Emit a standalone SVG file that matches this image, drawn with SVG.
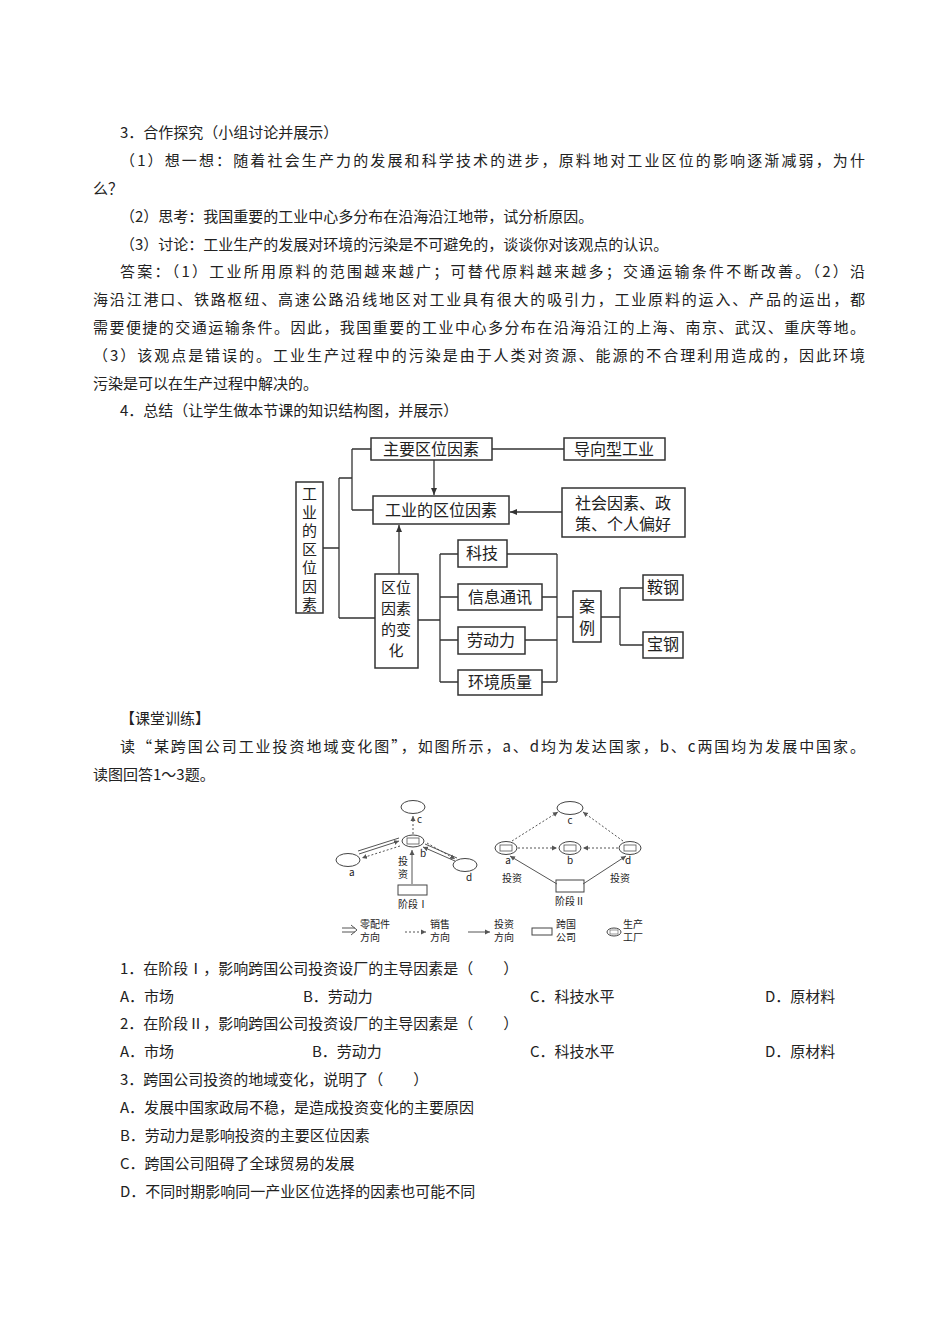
<svg xmlns="http://www.w3.org/2000/svg" width="950" height="1344" viewBox="0 0 950 1344">
<defs>
<style>
text{font-family:"Noto Sans CJK SC","Liberation Serif",serif;fill:#222}
.t{font-size:15px}
.b{font-size:16px}
.v{font-size:15px}
.s{font-size:10px}
.box{fill:#fff;stroke:#333;stroke-width:1.5}
.ln{fill:none;stroke:#333;stroke-width:1.3}
.th{fill:none;stroke:#555;stroke-width:1}
.dt{fill:none;stroke:#555;stroke-width:1;stroke-dasharray:2 2}
.el{fill:#fff;stroke:#444;stroke-width:1}
</style>
<marker id="ar" markerWidth="8" markerHeight="8" refX="7" refY="4" orient="auto" markerUnits="userSpaceOnUse"><path d="M0,1 L7,4 L0,7 Z" fill="#333"/></marker>
<marker id="as" markerWidth="6" markerHeight="6" refX="5" refY="3" orient="auto" markerUnits="userSpaceOnUse"><path d="M0,0.5 L5,3 L0,5.5 Z" fill="#555"/></marker>
</defs>
<rect width="950" height="1344" fill="#fff"/>
<g id="page-text" class="t">
<text x="120" y="138">3．合作探究（小组讨论并展示）</text>
<text x="120" y="166" textLength="745" lengthAdjust="spacing">（1）想一想：随着社会生产力的发展和科学技术的进步，原料地对工业区位的影响逐渐减弱，为什</text>
<text x="93" y="194">么？</text>
<text x="120" y="222">（2）思考：我国重要的工业中心多分布在沿海沿江地带，试分析原因。</text>
<text x="120" y="250">（3）讨论：工业生产的发展对环境的污染是不可避免的，谈谈你对该观点的认识。</text>
<text x="120" y="277" textLength="745" lengthAdjust="spacing">答案：（1）工业所用原料的范围越来越广；可替代原料越来越多；交通运输条件不断改善。（2）沿</text>
<text x="93" y="305" textLength="772" lengthAdjust="spacing">海沿江港口、铁路枢纽、高速公路沿线地区对工业具有很大的吸引力，工业原料的运入、产品的运出，都</text>
<text x="93" y="333" textLength="772" lengthAdjust="spacing">需要便捷的交通运输条件。因此，我国重要的工业中心多分布在沿海沿江的上海、南京、武汉、重庆等地。</text>
<text x="93" y="361" textLength="772" lengthAdjust="spacing">（3）该观点是错误的。工业生产过程中的污染是由于人类对资源、能源的不合理利用造成的，因此环境</text>
<text x="93" y="389">污染是可以在生产过程中解决的。</text>
<text x="120" y="416">4．总结（让学生做本节课的知识结构图，并展示）</text>
<text x="120" y="724">【课堂训练】</text>
<text x="120" y="752" textLength="745" lengthAdjust="spacing">读“某跨国公司工业投资地域变化图”，如图所示，a、d均为发达国家，b、c两国均为发展中国家。</text>
<text x="93" y="780">读图回答1～3题。</text>
<text x="120" y="974">1．在阶段Ⅰ，影响跨国公司投资设厂的主导因素是（　　）</text>
<text x="120" y="1002">A．市场</text><text x="303" y="1002">B．劳动力</text><text x="530" y="1002">C．科技水平</text><text x="765" y="1002">D．原材料</text>
<text x="120" y="1029">2．在阶段Ⅱ，影响跨国公司投资设厂的主导因素是（　　）</text>
<text x="120" y="1057">A．市场</text><text x="312" y="1057">B．劳动力</text><text x="530" y="1057">C．科技水平</text><text x="765" y="1057">D．原材料</text>
<text x="120" y="1085">3．跨国公司投资的地域变化，说明了（　　）</text>
<text x="120" y="1113">A．发展中国家政局不稳，是造成投资变化的主要原因</text>
<text x="120" y="1141">B．劳动力是影响投资的主要区位因素</text>
<text x="120" y="1169">C．跨国公司阻碍了全球贸易的发展</text>
<text x="120" y="1197">D．不同时期影响同一产业区位选择的因素也可能不同</text>
</g>
<g id="connectors">
<path class="ln" d="M323,548 H339 M339,478 V618 M339,478 H352 M352,449 V510 M352,449 H371 M352,510 H373 M339,618 H375"/>
<path class="ln" d="M434,460 V495" marker-end="url(#ar)"/>
<path class="ln" d="M492,449 H564"/>
<path class="ln" d="M562,512 H510" marker-end="url(#ar)"/>
<path class="ln" d="M399,574 V525" marker-end="url(#ar)"/>
<path class="ln" d="M418,620 H440 M440,554 V682 M440,554 H458 M440,597 H458 M440,640 H458 M440,682 H458"/>
<path class="ln" d="M507,554 H557 M542,597 H557 M525,640 H557 M542,682 H557 M557,554 V682 M557,617 H573"/>
<path class="ln" d="M601,617 H620 M620,588 V645 M620,588 H643 M620,645 H643"/>
</g>
<g id="n-main"><rect class="box" x="296" y="482" width="27" height="131"/>
<text class="v" x="309.5" y="499" text-anchor="middle">工</text><text class="v" x="309.5" y="517.5" text-anchor="middle">业</text><text class="v" x="309.5" y="536" text-anchor="middle">的</text><text class="v" x="309.5" y="554.5" text-anchor="middle">区</text><text class="v" x="309.5" y="573" text-anchor="middle">位</text><text class="v" x="309.5" y="591.5" text-anchor="middle">因</text><text class="v" x="309.5" y="610" text-anchor="middle">素</text></g>
<g id="n-zy"><rect class="box" x="371" y="438" width="121" height="22"/><text class="b" x="431" y="455" text-anchor="middle">主要区位因素</text></g>
<g id="n-dx"><rect class="box" x="564" y="438" width="101" height="22"/><text class="b" x="614" y="455" text-anchor="middle">导向型工业</text></g>
<g id="n-gy"><rect class="box" x="373" y="496" width="136" height="28"/><text class="b" x="441" y="516" text-anchor="middle">工业的区位因素</text></g>
<g id="n-sh"><rect class="box" x="562" y="488" width="123" height="49"/><text class="b" x="623" y="509" text-anchor="middle">社会因素、政</text><text class="b" x="623" y="530" text-anchor="middle">策、个人偏好</text></g>
<g id="n-bh"><rect class="box" x="375" y="574" width="43" height="94"/><text class="v" x="396" y="593" text-anchor="middle">区位</text><text class="v" x="396" y="614" text-anchor="middle">因素</text><text class="v" x="396" y="635" text-anchor="middle">的变</text><text class="v" x="396" y="656" text-anchor="middle">化</text></g>
<g id="n-kj"><rect class="box" x="458" y="540" width="49" height="27"/><text class="b" x="482" y="559" text-anchor="middle">科技</text></g>
<g id="n-xx"><rect class="box" x="458" y="584" width="84" height="26"/><text class="b" x="500" y="603" text-anchor="middle">信息通讯</text></g>
<g id="n-ld"><rect class="box" x="458" y="627" width="67" height="27"/><text class="b" x="491" y="646" text-anchor="middle">劳动力</text></g>
<g id="n-hj"><rect class="box" x="458" y="670" width="84" height="25"/><text class="b" x="500" y="688" text-anchor="middle">环境质量</text></g>
<g id="n-al"><rect class="box" x="573" y="591" width="28" height="51"/><text class="b" x="587" y="612" text-anchor="middle">案</text><text class="b" x="587" y="634" text-anchor="middle">例</text></g>
<g id="n-ag"><rect class="box" x="643" y="575" width="40" height="25"/><text class="b" x="663" y="593" text-anchor="middle">鞍钢</text></g>
<g id="n-bg"><rect class="box" x="643" y="632" width="40" height="26"/><text class="b" x="663" y="650" text-anchor="middle">宝钢</text></g>
<g id="fig2">
<ellipse class="el" cx="413" cy="807" rx="12" ry="6.5"/><text class="s" x="417" y="823">c</text>
<path class="dt" d="M413,834 V816" marker-end="url(#as)"/>
<ellipse class="el" cx="413" cy="841" rx="11" ry="6"/><rect x="407" y="838" width="12" height="6" fill="#fff" stroke="#555" stroke-width="0.8"/>
<text class="s" x="420" y="857">b</text>
<ellipse class="el" cx="348" cy="860" rx="12" ry="6.5"/><text class="s" x="349" y="876">a</text>
<ellipse class="el" cx="465" cy="865" rx="12" ry="6.5"/><text class="s" x="466" y="881">d</text>
<path class="th" d="M358,851 L399,838 M359,854 L399,841" marker-end="url(#as)"/>
<path class="dt" d="M400,846 L362,858" marker-end="url(#as)"/>
<path class="th" d="M457,858 L425,844 M455,861 L423,847" marker-end="url(#as)"/>
<path class="dt" d="M427,843 L455,859" marker-end="url(#as)"/>
<rect class="el" x="398" y="885" width="29" height="10"/>
<path class="th" d="M412,884 V850" marker-end="url(#as)"/>
<text class="s" x="403" y="865" text-anchor="middle">投</text><text class="s" x="403" y="878" text-anchor="middle">资</text>
<text class="s" x="413" y="908" text-anchor="middle">阶段Ⅰ</text>
<ellipse class="el" cx="570" cy="808" rx="13" ry="6.5"/><text class="s" x="570" y="824" text-anchor="middle">c</text>
<ellipse class="el" cx="506" cy="848" rx="11" ry="6.5"/><rect x="500" y="845" width="12" height="6" fill="#fff" stroke="#555" stroke-width="0.8"/><text class="s" x="508" y="864" text-anchor="middle">a</text>
<ellipse class="el" cx="570" cy="848" rx="11" ry="6.5"/><rect x="564" y="845" width="12" height="6" fill="#fff" stroke="#555" stroke-width="0.8"/><text class="s" x="570" y="864" text-anchor="middle">b</text>
<ellipse class="el" cx="630" cy="848" rx="11" ry="6.5"/><rect x="624" y="845" width="12" height="6" fill="#fff" stroke="#555" stroke-width="0.8"/><text class="s" x="628" y="864" text-anchor="middle">d</text>
<path class="dt" d="M512,841 L558,812" marker-end="url(#as)"/>
<path class="dt" d="M623,841 L583,812" marker-end="url(#as)"/>
<path class="dt" d="M518,848 L557,848" marker-end="url(#as)"/>
<path class="dt" d="M618,848 L583,848" marker-end="url(#as)"/>
<rect class="el" x="556" y="880" width="28" height="12"/>
<path class="th" d="M557,884 L510,856" marker-end="url(#as)"/>
<path class="th" d="M583,884 L626,856" marker-end="url(#as)"/>
<text class="s" x="512" y="882" text-anchor="middle">投资</text><text class="s" x="620" y="882" text-anchor="middle">投资</text>
<text class="s" x="570" y="905" text-anchor="middle">阶段Ⅱ</text>
<path class="th" d="M342,928 H355 M342,932 H355"/><path class="th" d="M351,925 L357,930 L351,935"/>
<text class="s" x="360" y="928">零配件</text><text class="s" x="360" y="941">方向</text>
<path class="dt" d="M405,932 H426" marker-end="url(#as)"/>
<text class="s" x="430" y="928">销售</text><text class="s" x="430" y="941">方向</text>
<path class="th" d="M468,932 H490" marker-end="url(#as)"/>
<text class="s" x="494" y="928">投资</text><text class="s" x="494" y="941">方向</text>
<rect class="el" x="532" y="928" width="20" height="7"/>
<text class="s" x="556" y="928">跨国</text><text class="s" x="556" y="941">公司</text>
<ellipse class="el" cx="614" cy="932" rx="7" ry="4"/><rect x="610" y="930" width="8" height="4" fill="#fff" stroke="#555" stroke-width="0.6"/>
<text class="s" x="623" y="928">生产</text><text class="s" x="623" y="941">工厂</text>
</g>
</svg>
